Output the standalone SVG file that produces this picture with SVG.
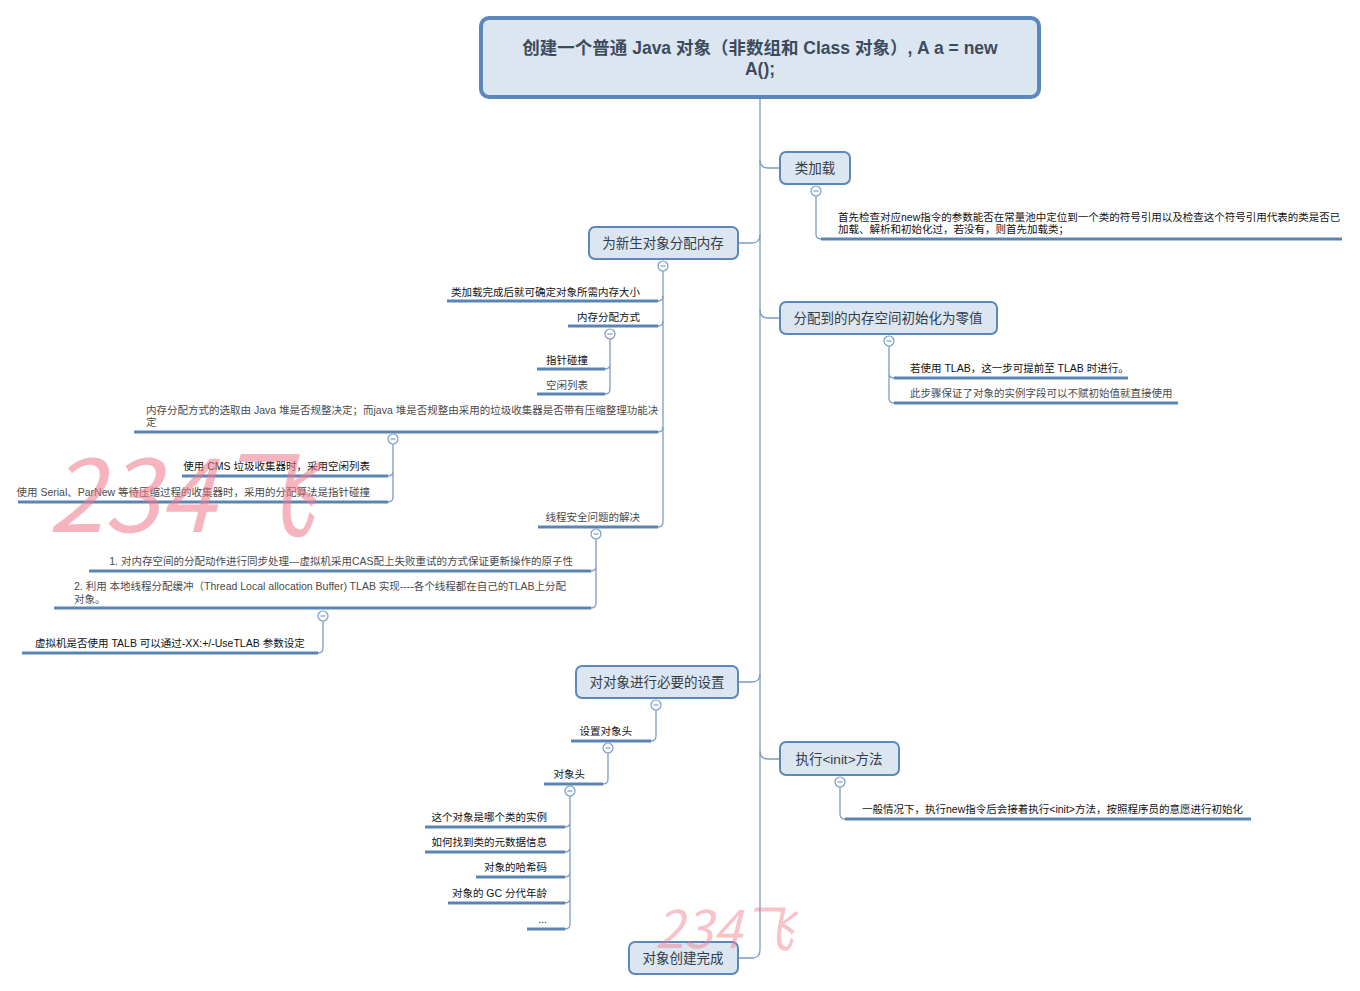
<svg xmlns="http://www.w3.org/2000/svg" xmlns:xlink="http://www.w3.org/1999/xlink" width="1360" height="991" viewBox="0 0 1360 991">
<style>
.bg{fill:#ffffff}
.node{fill:#dce6f1;stroke:#5b87bd;stroke-width:2}
.root{fill:#dce6f1;stroke:#5b87bd;stroke-width:4}
.nt{font-family:"Liberation Sans","Noto Sans CJK SC",sans-serif;font-size:13.5px;fill:#333d4a;text-anchor:middle}
.rt{font-family:"Liberation Sans","Noto Sans CJK SC",sans-serif;font-size:17.5px;font-weight:bold;fill:#3d4b5c;text-anchor:middle}
.c{fill:none;stroke:#7b9cc4;stroke-width:1.3}
.u{fill:none;stroke:#5b84b5;stroke-width:3}
.t{font-family:"Liberation Sans","Noto Sans CJK SC",sans-serif;font-size:10.5px;fill:#111111}
.g{fill:#4a4a4a}
.e{text-anchor:end}
.wm{font-family:"Noto Sans CJK SC",sans-serif;fill:#f07a8a;font-style:italic}
</style>
<defs>
<g id="m"><circle r="5" fill="#ffffff" stroke="#7b9cc4" stroke-width="1.2"/><line x1="-2.5" y1="0" x2="2.5" y2="0" stroke="#7b9cc4" stroke-width="1.2"/></g>
</defs>
<rect class="bg" x="0" y="0" width="1360" height="991"/>

<g id="connectors">
<path class="c" d="M760 97 V950"/>
<path class="c" d="M760 160 Q760 168 768 168 H780"/>
<path class="c" d="M738 243 H752 Q760 243 760 235"/>
<path class="c" d="M760 310 Q760 318 768 318 H780"/>
<path class="c" d="M738 682 H752 Q760 682 760 674"/>
<path class="c" d="M760 751 Q760 759 768 759 H780"/>
<path class="c" d="M738 958 H752 Q760 958 760 950"/>
</g>

<g id="root">
<rect class="root" x="481" y="18" width="558" height="79" rx="8"/>
<text class="rt" x="760" y="54">创建一个普通 Java 对象（非数组和 Class 对象）, A a = new<tspan x="760" y="75">A();</tspan></text>
</g>

<g id="n-classload">
<rect class="node" x="780" y="152" width="70" height="32" rx="6"/>
<text class="nt" x="815" y="173">类加载</text>
<path class="c" d="M816 196 V234 Q816 239 821 239"/>
<path class="u" d="M821 239 H1342"/>
<use xlink:href="#m" x="816" y="191"/>
<text class="t" x="838" y="221">首先检查对应new指令的参数能否在常量池中定位到一个类的符号引用以及检查这个符号引用代表的类是否已<tspan x="838" y="233">加载、解析和初始化过，若没有，则首先加载类；</tspan></text>
</g>

<g id="n-alloc">
<rect class="node" x="589" y="227" width="149" height="32" rx="6"/>
<text class="nt" x="663" y="248">为新生对象分配内存</text>
<path class="c" d="M663 271 V522"/>
<use xlink:href="#m" x="663" y="266"/>
<path class="c" d="M663 296 Q663 301 658 301"/>
<path class="u" d="M447 301 H658"/>
<text class="t e" x="640" y="296">类加载完成后就可确定对象所需内存大小</text>
<path class="c" d="M663 321 Q663 326 658 326"/>
<path class="u" d="M568 326 H658"/>
<text class="t e" x="640" y="321">内存分配方式</text>
<path class="c" d="M610 339 V389 M610 364 Q610 369 605 369 M610 389 Q610 394 605 394"/>
<use xlink:href="#m" x="610" y="334"/>
<path class="u" d="M537 369 H605"/>
<text class="t e" x="588" y="364">指针碰撞</text>
<path class="u" d="M537 394 H605"/>
<text class="t e g" x="588" y="389">空闲列表</text>
<path class="c" d="M663 427 Q663 432 658 432"/>
<path class="u" d="M134 432 H658"/>
<text class="t g" x="146" y="414">内存分配方式的选取由 Java 堆是否规整决定；而java 堆是否规整由采用的垃圾收集器是否带有压缩整理功能决<tspan x="146" y="426">定</tspan></text>
<path class="c" d="M393 444 V497 M393 471 Q393 476 388 476 M393 497 Q393 502 388 502"/>
<use xlink:href="#m" x="393" y="439"/>
<path class="u" d="M182 476 H388"/>
<text class="t e" x="370" y="470">使用 CMS 垃圾收集器时，采用空闲列表</text>
<path class="u" d="M18 502 H388"/>
<text class="t e g" x="370" y="496">使用 Serial、ParNew 等待压缩过程的收集器时，采用的分配算法是指针碰撞</text>
<path class="c" d="M663 522 Q663 527 658 527"/>
<path class="u" d="M538 527 H658"/>
<text class="t e g" x="640" y="521">线程安全问题的解决</text>
<path class="c" d="M596 539 V603 M596 566 Q596 571 591 571 M596 603 Q596 608 591 608"/>
<use xlink:href="#m" x="596" y="534"/>
<path class="u" d="M89 571 H591"/>
<text class="t e g" x="573" y="565">1. 对内存空间的分配动作进行同步处理---虚拟机采用CAS配上失败重试的方式保证更新操作的原子性</text>
<path class="u" d="M54 608 H591"/>
<text class="t g" x="74" y="590">2. 利用 本地线程分配缓冲（Thread Local allocation Buffer) TLAB 实现----各个线程都在自己的TLAB上分配<tspan x="74" y="603">对象。</tspan></text>
<path class="c" d="M323 621 V648 Q323 653 318 653"/>
<use xlink:href="#m" x="323" y="616"/>
<path class="u" d="M22 653 H318"/>
<text class="t" x="35" y="647">虚拟机是否使用 TALB 可以通过-XX:+/-UseTLAB 参数设定</text>
</g>

<g id="n-zero">
<rect class="node" x="780" y="302" width="217" height="32" rx="6"/>
<text class="nt" x="888" y="323">分配到的内存空间初始化为零值</text>
<path class="c" d="M889 346 V398 M889 373 Q889 378 894 378 M889 398 Q889 403 894 403"/>
<use xlink:href="#m" x="889" y="341"/>
<path class="u" d="M894 378 H1128"/>
<text class="t" x="910" y="372">若使用 TLAB，这一步可提前至 TLAB 时进行。</text>
<path class="u" d="M894 403 H1178"/>
<text class="t g" x="910" y="397">此步骤保证了对象的实例字段可以不赋初始值就直接使用</text>
</g>

<g id="n-setup">
<rect class="node" x="576" y="666" width="162" height="32" rx="6"/>
<text class="nt" x="657" y="687">对对象进行必要的设置</text>
<path class="c" d="M656 710 V736 Q656 741 651 741"/>
<use xlink:href="#m" x="656" y="705"/>
<path class="u" d="M571 741 H651"/>
<text class="t e" x="632" y="735">设置对象头</text>
<path class="c" d="M608 753 V779 Q608 784 603 784"/>
<use xlink:href="#m" x="608" y="748"/>
<path class="u" d="M544 784 H603"/>
<text class="t e" x="585" y="778">对象头</text>
<path class="c" d="M570 796 V924 M570 822 Q570 827 565 827 M570 847 Q570 852 565 852 M570 872 Q570 877 565 877 M570 898 Q570 903 565 903 M570 924 Q570 929 565 929"/>
<use xlink:href="#m" x="570" y="791"/>
<path class="u" d="M425 827 H565 M425 852 H565 M476 877 H565 M448 903 H565 M527 929 H565"/>
<text class="t e" x="547" y="821">这个对象是哪个类的实例</text>
<text class="t e" x="547" y="846">如何找到类的元数据信息</text>
<text class="t e" x="547" y="871">对象的哈希码</text>
<text class="t e" x="547" y="897">对象的 GC 分代年龄</text>
<text class="t e" x="547" y="923">...</text>
</g>

<g id="n-init">
<rect class="node" x="780" y="742" width="119" height="33" rx="6"/>
<text class="nt" x="839" y="764">执行&lt;init&gt;方法</text>
<path class="c" d="M840 787 V814 Q840 819 845 819"/>
<use xlink:href="#m" x="840" y="782"/>
<path class="u" d="M845 819 H1251"/>
<text class="t" x="862" y="813">一般情况下，执行new指令后会接着执行&lt;init&gt;方法，按照程序员的意愿进行初始化</text>
</g>

<g id="n-done">
<rect class="node" x="629" y="942" width="109" height="32" rx="6"/>
<text class="nt" x="683" y="963">对象创建完成</text>
</g>

<g id="watermark">
<text class="wm" x="48" y="532" font-size="100" opacity="0.55">234飞</text>
<text class="wm" x="655" y="948" font-size="52" opacity="0.45">234飞</text>
</g>
</svg>
